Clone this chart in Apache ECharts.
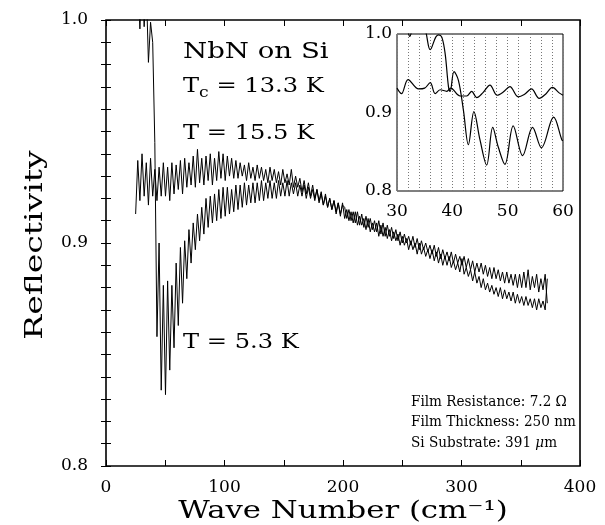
<!DOCTYPE html>
<html><head><meta charset="utf-8">
<script src="https://cdn.jsdelivr.net/npm/echarts@6/dist/echarts.min.js"></script>
<style>html,body{margin:0;padding:0;background:#fff}#c{width:605px;height:525px}</style>
</head><body><div id="c"></div>
<script>
// ---- data ----
const wave = [25.0,26.8,28.6,30.4,32.2,34.0,35.8,37.6,39.4,41.2,
43.0,44.8,46.6,48.4,50.2,52.0,53.8,55.6,57.4,59.2,
61.0,62.8,64.6,66.4,68.2,70.0,71.8,73.6,75.4,77.2,
79.0,80.8,82.6,84.4,86.2,88.0,89.8,91.6,93.4,95.2,
97.0,98.8,100.6,102.4,104.2,106.0,107.8,109.6,111.4,113.2,
115.0,116.8,118.6,120.4,122.2,124.0,125.8,127.6,129.4,131.2,
133.0,134.8,136.6,138.4,140.2,142.0,143.8,145.6,147.4,149.2,
151.0,152.8,154.6,156.4,158.2,160.0,161.8,163.6,165.4,167.2,
169.0,170.8,172.6,174.4,176.2,178.0,179.8,181.6,183.4,185.2,
187.0,188.8,190.6,192.4,194.2,196.0,197.8,199.6,201.4,203.2,
205.0,206.8,208.6,210.4,212.2,214.0,215.8,217.6,219.4,221.2,
223.0,224.8,226.6,228.4,230.2,232.0,233.8,235.6,237.4,239.2,
241.0,242.8,244.6,246.4,248.2,250.0,251.8,253.6,255.4,257.2,
259.0,260.8,262.6,264.4,266.2,268.0,269.8,271.6,273.4,275.2,
277.0,278.8,280.6,282.4,284.2,286.0,287.8,289.6,291.4,293.2,
295.0,296.8,298.6,300.4,302.2,304.0,305.8,307.6,309.4,311.2,
313.0,314.8,316.6,318.4,320.2,322.0,323.8,325.6,327.4,329.2,
331.0,332.8,334.6,336.4,338.2,340.0,341.8,343.6,345.4,347.2,
349.0,350.8,352.6,354.4,356.2,358.0,359.8,361.6,363.4,365.2,
367.0,368.8,370.6,372.4];

// T = 15.5 K
const reflHigh = [0.913,0.937,0.919,0.940,0.921,0.936,0.917,0.938,0.921,0.933,
0.919,0.934,0.921,0.936,0.921,0.934,0.919,0.936,0.922,0.935,
0.924,0.937,0.922,0.938,0.925,0.936,0.926,0.939,0.925,0.942,
0.927,0.938,0.926,0.939,0.928,0.940,0.926,0.938,0.928,0.941,
0.929,0.940,0.928,0.939,0.930,0.938,0.929,0.937,0.929,0.936,
0.930,0.935,0.928,0.936,0.929,0.934,0.928,0.935,0.929,0.934,
0.928,0.933,0.927,0.934,0.928,0.933,0.927,0.932,0.926,0.933,
0.927,0.931,0.926,0.933,0.925,0.930,0.925,0.929,0.923,0.928,
0.922,0.927,0.921,0.926,0.920,0.924,0.919,0.923,0.917,0.922,
0.916,0.920,0.915,0.919,0.913,0.918,0.912,0.918,0.911,0.915,
0.910,0.914,0.909,0.914,0.908,0.912,0.908,0.911,0.906,0.911,
0.905,0.909,0.905,0.909,0.903,0.908,0.903,0.907,0.902,0.906,
0.901,0.905,0.901,0.904,0.899,0.903,0.899,0.902,0.897,0.901,
0.897,0.900,0.895,0.900,0.895,0.898,0.894,0.897,0.893,0.897,
0.892,0.896,0.891,0.895,0.890,0.894,0.890,0.894,0.889,0.892,
0.888,0.891,0.887,0.893,0.886,0.889,0.885,0.888,0.883,0.887,
0.882,0.885,0.880,0.884,0.879,0.882,0.878,0.881,0.877,0.880,
0.876,0.880,0.875,0.879,0.875,0.878,0.874,0.878,0.873,0.877,
0.873,0.876,0.872,0.876,0.872,0.875,0.871,0.875,0.870,0.875,
0.871,0.874,0.870,0.884];

// T = 5.3 K
const reflLow = [1.010,1.020,0.996,1.020,0.997,1.015,0.981,0.999,0.990,0.945,
0.858,0.900,0.834,0.881,0.832,0.883,0.843,0.881,0.853,0.891,
0.863,0.898,0.873,0.901,0.884,0.906,0.891,0.909,0.897,0.913,
0.901,0.916,0.904,0.920,0.907,0.921,0.909,0.922,0.910,0.924,
0.911,0.925,0.912,0.925,0.913,0.924,0.914,0.926,0.915,0.926,
0.916,0.927,0.917,0.926,0.918,0.927,0.918,0.927,0.919,0.928,
0.919,0.927,0.920,0.928,0.920,0.927,0.920,0.928,0.921,0.927,
0.921,0.928,0.921,0.927,0.922,0.927,0.921,0.926,0.921,0.926,
0.920,0.925,0.920,0.924,0.919,0.924,0.918,0.922,0.917,0.921,
0.916,0.920,0.915,0.919,0.914,0.918,0.913,0.917,0.916,0.911,
0.915,0.910,0.914,0.909,0.914,0.908,0.913,0.907,0.912,0.907,
0.911,0.906,0.910,0.905,0.910,0.904,0.909,0.903,0.908,0.903,
0.907,0.902,0.906,0.901,0.905,0.900,0.904,0.900,0.903,0.899,
0.903,0.898,0.902,0.897,0.901,0.897,0.900,0.896,0.899,0.895,
0.899,0.894,0.898,0.893,0.897,0.893,0.896,0.892,0.896,0.891,
0.895,0.891,0.894,0.890,0.894,0.889,0.893,0.888,0.892,0.887,
0.891,0.887,0.891,0.886,0.890,0.885,0.889,0.884,0.889,0.884,
0.888,0.883,0.887,0.882,0.887,0.882,0.886,0.881,0.886,0.880,
0.886,0.880,0.887,0.880,0.888,0.879,0.885,0.880,0.886,0.878,
0.884,0.879,0.886,0.873];

// inset (30-60 cm^-1)
const insetWaveHigh = [30.0,30.8,32.0,33.9,35.0,36.0,36.9,37.8,39.0,39.7,41.4,42.6,43.5,44.4,45.5,46.8,48.1,49.2,50.4,51.9,53.0,54.3,55.7,56.8,58.1,59.3,60.0];
const insetHigh = [0.931,0.924,0.942,0.930,0.931,0.938,0.924,0.929,0.927,0.931,0.921,0.921,0.927,0.919,0.925,0.935,0.922,0.926,0.933,0.920,0.923,0.930,0.918,0.923,0.932,0.925,0.922];
const insetWaveLow = [30.0,31.5,32.3,33.2,34.8,36.0,37.0,37.5,38.1,38.7,39.3,39.6,40.3,41.1,42.0,42.9,43.9,45.0,46.2,47.3,48.3,49.5,51.0,52.7,54.5,56.1,58.3,59.8,60.0];
const insetLow = [1.010,1.012,0.997,1.012,1.010,0.980,0.996,0.999,0.996,0.975,0.933,0.927,0.952,0.941,0.903,0.859,0.901,0.865,0.833,0.881,0.856,0.834,0.883,0.845,0.881,0.855,0.894,0.865,0.864];

const xTickLabels = ['0','100','200','300','400'];
const yTickLabels = ['0.8','0.9','1.0'];
const insetXTickLabels = ['30','40','50','60'];
const insetYTickLabels = ['0.8','0.9','1.0'];

// ---- chart ----
const SERIF = 'DejaVu Serif';
const pairs = (xs, ys) => xs.map((x, i) => [x, ys[i]]);
const fmtX = labels => v => {
  const r = Math.round(v);
  return (Math.abs(v - r) < 1e-6 && labels.includes(String(r))) ? String(r) : '';
};
const fmtY = labels => v => {
  const s = (Math.round(v * 100) / 100).toFixed(1);
  return (Math.abs(v * 10 - Math.round(v * 10)) < 1e-6 && labels.includes(s)) ? s : '';
};
const tickStyle = { lineStyle: { color: '#000', width: 1 } };
const lab = { color: '#000', fontFamily: SERIF, fontSize: 17 };

const chart = echarts.init(document.getElementById('c'), null, { renderer: 'canvas' });
chart.setOption({
  animation: false,
  backgroundColor: '#fff',
  grid: [
    { left: 106, top: 20, width: 474, height: 446, show: true, borderColor: '#000', borderWidth: 1.6, backgroundColor: 'transparent', containLabel: false },
    { left: 397, top: 34, width: 166, height: 157, show: true, borderColor: '#000', borderWidth: 1, backgroundColor: '#fff', containLabel: false }
  ],
  xAxis: [
    { gridIndex: 0, type: 'value', min: 0, max: 400, interval: 50, position: 'bottom',
      axisLine: { show: false }, splitLine: { show: false },
      axisTick: { show: true, inside: true, length: 6, ...tickStyle },
      axisLabel: { ...lab, margin: 13, formatter: fmtX(xTickLabels) } },
    { gridIndex: 0, type: 'value', min: 0, max: 400, interval: 50, position: 'top',
      axisLine: { show: false }, splitLine: { show: false },
      axisTick: { show: true, inside: true, length: 6, ...tickStyle },
      axisLabel: { show: false } },
    { gridIndex: 1, type: 'value', min: 30, max: 60, interval: 2, position: 'bottom',
      axisLine: { show: false }, axisTick: { show: false },
      splitLine: { show: true, lineStyle: { color: '#777', type: [1, 2], width: 1 } },
      axisLabel: { ...lab, margin: 12, formatter: fmtX(insetXTickLabels) } }
  ],
  yAxis: [
    { gridIndex: 0, type: 'value', min: 0.8, max: 1.0, interval: 0.01, position: 'left',
      axisLine: { show: false }, splitLine: { show: false },
      axisTick: { show: true, inside: true, length: 5, ...tickStyle },
      axisLabel: { ...lab, margin: 18, formatter: fmtY(yTickLabels) } },
    { gridIndex: 0, type: 'value', min: 0.8, max: 1.0, interval: 0.01, position: 'right',
      axisLine: { show: false }, splitLine: { show: false },
      axisTick: { show: true, inside: true, length: 5, ...tickStyle },
      axisLabel: { show: false } },
    { gridIndex: 1, type: 'value', min: 0.8, max: 1.0, interval: 0.1, position: 'left',
      axisLine: { show: false }, splitLine: { show: false }, axisTick: { show: false },
      axisLabel: { ...lab, margin: 5, formatter: fmtY(insetYTickLabels) } }
  ],
  series: [
    { name: 'T = 15.5 K', type: 'line', xAxisIndex: 0, yAxisIndex: 0, data: pairs(wave, reflHigh),
      showSymbol: false, clip: true, lineStyle: { color: '#000', width: 1 } },
    { name: 'T = 5.3 K', type: 'line', xAxisIndex: 0, yAxisIndex: 0, data: pairs(wave, reflLow),
      showSymbol: false, clip: true, lineStyle: { color: '#000', width: 1 } },
    { name: 'inset 15.5 K', type: 'line', xAxisIndex: 2, yAxisIndex: 2, data: pairs(insetWaveHigh, insetHigh),
      showSymbol: false, clip: true, smooth: 0.35, lineStyle: { color: '#000', width: 1.2 } },
    { name: 'inset 5.3 K', type: 'line', xAxisIndex: 2, yAxisIndex: 2, data: pairs(insetWaveLow, insetLow),
      showSymbol: false, clip: true, smooth: 0.35, lineStyle: { color: '#000', width: 1.2 } }
  ],
  graphic: [
    { type: 'text', x: 35, y: 245, rotation: Math.PI / 2, scaleX: 1.32,
      style: { text: 'Reflectivity', font: '25px "DejaVu Serif"', fill: '#000', textAlign: 'center', textVerticalAlign: 'middle' } },
    { type: 'text', x: 343, y: 512, scaleX: 1.28,
      style: { text: 'Wave Number (cm⁻¹)', font: '24px "DejaVu Serif"', fill: '#000', textAlign: 'center', textVerticalAlign: 'middle' } },
    { type: 'text', x: 183, y: 52, scaleX: 1.2,
      style: { text: 'NbN on Si', font: '23px "DejaVu Serif"', fill: '#000', textAlign: 'left', textVerticalAlign: 'middle' } },
    { type: 'text', x: 183, y: 87, scaleX: 1.15,
      style: { text: '{t|T}{s|c}{t| = 13.3 K}', fill: '#000', textAlign: 'left', textVerticalAlign: 'middle',
        rich: { t: { fontFamily: SERIF, fontSize: 21, lineHeight: 28, fill: '#000' },
                s: { fontFamily: SERIF, fontSize: 15, lineHeight: 15, verticalAlign: 'bottom', fill: '#000' } } } },
    { type: 'text', x: 183, y: 134, scaleX: 1.15,
      style: { text: 'T = 15.5 K', font: '21px "DejaVu Serif"', fill: '#000', textAlign: 'left', textVerticalAlign: 'middle' } },
    { type: 'text', x: 183, y: 343, scaleX: 1.15,
      style: { text: 'T = 5.3 K', font: '21px "DejaVu Serif"', fill: '#000', textAlign: 'left', textVerticalAlign: 'middle' } },
    { type: 'text', x: 411, y: 402, scaleX: 0.97,
      style: { text: 'Film Resistance: 7.2 Ω', font: '14px "DejaVu Serif"', fill: '#000', textAlign: 'left', textVerticalAlign: 'middle' } },
    { type: 'text', x: 411, y: 422, scaleX: 0.97,
      style: { text: 'Film Thickness: 250 nm', font: '14px "DejaVu Serif"', fill: '#000', textAlign: 'left', textVerticalAlign: 'middle' } },
    { type: 'text', x: 411, y: 443, scaleX: 0.97,
      style: { text: 'Si Substrate: 391 {i|μ}m', fill: '#000', textAlign: 'left', textVerticalAlign: 'middle',
        fontFamily: SERIF, fontSize: 14,
        rich: { i: { fontFamily: SERIF, fontSize: 14, fontStyle: 'italic', fill: '#000' } } } }
  ]
});
</script>
</body></html>
